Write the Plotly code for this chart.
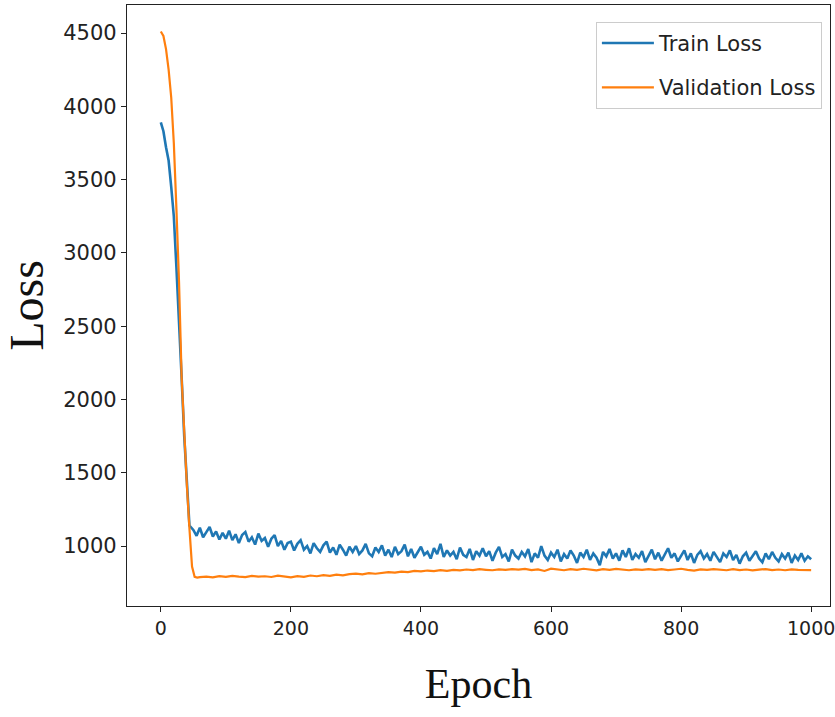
import plotly.graph_objects as go

# ---- data ----
train_epochs = [0, 4, 8, 12, 16, 20, 24, 28, 32, 36, 40, 44] + list(range(50, 1001, 5))
train_loss = [
    3890, 3830, 3720, 3630, 3450, 3250, 2900, 2550, 2150, 1750, 1420, 1140,
    1110, 1070, 1125, 1060, 1095, 1130, 1065, 1100, 1045, 1090,
    1050, 1105, 1040, 1080, 1020, 1075, 1095, 1030, 1060, 1010,
    1085, 1035, 1055, 995, 1050, 1075, 1000, 1035, 975, 1020,
    1030, 970, 1015, 1040, 975, 1000, 950, 1020, 985, 960,
    1005, 1030, 955, 990, 940, 1010, 975, 935, 995, 960,
    1000, 945, 970, 1015, 950, 930, 990, 960, 1005, 935,
    975, 925, 995, 945, 965, 1010, 930, 980, 920, 960,
    995, 940, 960, 915, 985, 945, 1015, 925, 970, 935,
    960, 910, 990, 940, 925, 980, 905, 965, 935, 985,
    930, 965, 900, 955, 995, 925, 945, 895, 975, 935,
    915, 960, 930, 980, 890, 950, 920, 1000, 935, 905,
    955, 925, 975, 895, 945, 915, 970, 935, 885, 955,
    925, 975, 905, 950, 920, 870, 960, 930, 980, 915,
    950, 900, 970, 925, 985, 905, 945, 920, 965, 890,
    935, 975, 910, 955, 900, 945, 985, 920, 950, 895,
    930, 970, 905, 950, 885, 940, 965, 915, 945, 900,
    960, 920, 890, 950, 925, 970, 905, 940, 880, 930,
    955, 900, 935, 965, 915, 890, 950, 910, 960, 920,
    895, 945, 915, 955, 885, 935, 905, 950, 900, 930,
    910,
]

val_epochs = [0, 4, 8, 12, 16, 20, 24, 28, 32, 36, 40, 44, 48, 52, 56] + list(range(60, 1001, 10))
val_loss = [
    4510, 4480, 4390, 4250, 4060, 3750, 3300, 2800, 2150, 1750, 1420, 1120, 860, 790, 785,
    788, 792, 786, 795, 790, 797, 792, 788, 796, 791,
    794, 789, 798, 793, 787, 795, 790, 799, 794, 801,
    797, 805, 800, 808, 812, 807, 815, 811, 818, 822,
    819, 826, 822, 830, 827, 833, 829, 836, 831, 838,
    834, 840, 836, 842, 838, 835, 841, 837, 843, 839,
    844, 836, 841, 830, 846, 840, 835, 843, 838, 845,
    839, 834, 842, 837, 844, 840, 835, 841, 838, 843,
    837, 842, 836, 840, 845, 838, 833, 841, 837, 843,
    838, 835, 842, 836, 840, 834, 839, 843, 836, 840,
    835, 841, 837, 839, 836,
]

x_ticks = [0, 200, 400, 600, 800, 1000]
y_ticks = [1000, 1500, 2000, 2500, 3000, 3500, 4000, 4500]

TITLE_FONT = "Liberation Serif, Times New Roman, serif"

fig = go.Figure()
fig.add_trace(go.Scatter(x=train_epochs, y=train_loss, mode="lines", name="Train Loss",
                         legendgroup="a", line=dict(color="#1f77b4", width=2.6)))
fig.add_trace(go.Scatter(x=val_epochs, y=val_loss, mode="lines", name="Validation Loss",
                         legendgroup="b", line=dict(color="#ff7f0e", width=2.2)))

fig.update_layout(
    width=835, height=717,
    margin=dict(l=127, r=5, t=5, b=111, autoexpand=False),
    paper_bgcolor="white", plot_bgcolor="white",
    showlegend=True,
    legend=dict(
        x=0.667, y=0.972, xanchor="left", yanchor="top",
        bordercolor="#cccccc", borderwidth=1, bgcolor="white",
        font=dict(family="DejaVu Sans, sans-serif", size=21, color="#222"),
        tracegroupgap=14, itemwidth=52,
    ),
)
fig.update_xaxes(
    range=[-52, 1029], tickvals=x_ticks, ticktext=[str(v) for v in x_ticks],
    showgrid=False, zeroline=False, automargin=False,
    showline=True, linecolor="#222", linewidth=1.3, mirror=True,
    ticks="outside", ticklen=5, tickcolor="#222", tickwidth=1.3,
    tickfont=dict(family="DejaVu Sans, sans-serif", size=19, color="#222"),
    ticklabeloverflow="allow",
    title=dict(text="Epoch", font=dict(family=TITLE_FONT, size=42, color="#111"), standoff=30),
)
fig.update_yaxes(
    range=[591, 4691], tickvals=y_ticks, ticktext=[str(v) for v in y_ticks],
    showgrid=False, zeroline=False, automargin=False,
    showline=True, linecolor="#222", linewidth=1.3, mirror=True,
    ticks="outside", ticklen=5, tickcolor="#222", tickwidth=1.3,
    tickfont=dict(family="DejaVu Sans, sans-serif", size=21, color="#222"),
    ticklabeloverflow="allow",
    title=dict(text="Loss", font=dict(family=TITLE_FONT, size=48, color="#111"), standoff=16),
)

fig.write_html(
    "out.html",
    config={"displayModeBar": False},
    post_script="document.body.style.margin='0';document.body.style.overflow='hidden';",
)
